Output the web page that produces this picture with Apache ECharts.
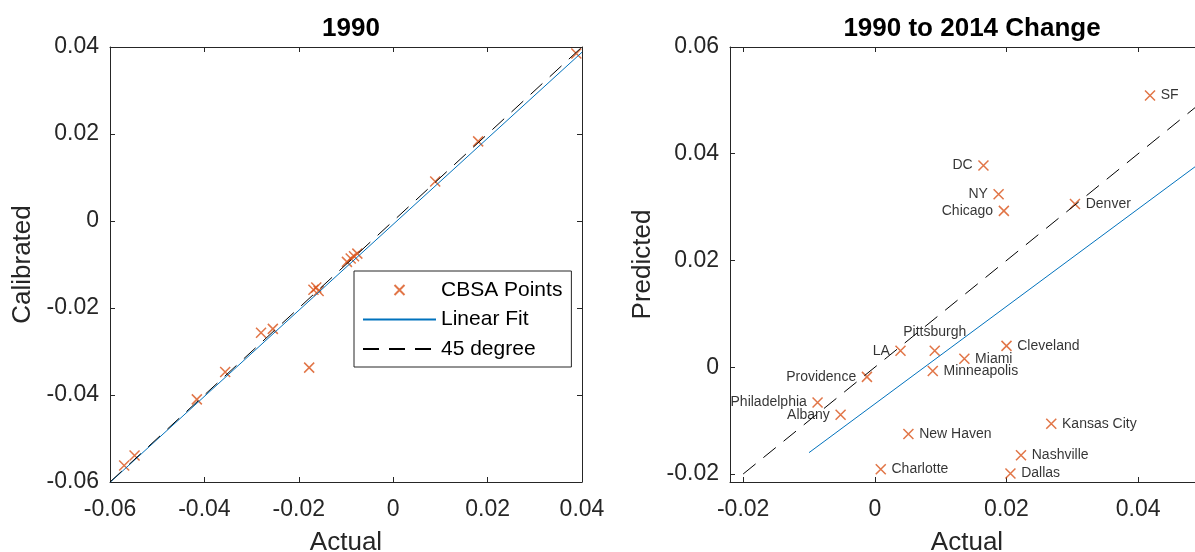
<!DOCTYPE html>
<html>
<head>
<meta charset="utf-8">
<script src="https://cdn.jsdelivr.net/npm/echarts@6/dist/echarts.min.js"></script>
<style>
  html, body { margin: 0; padding: 0; background: #fff; }
  #chart { width: 1195px; height: 552px; }
</style>
</head>
<body>
<div id="chart"></div>
<script>
// left panel: 1990 levels
const calX = [-0.0570, -0.0548, -0.0416, -0.0356, -0.0280, -0.0255, -0.0178, -0.0169, -0.0163, -0.0158,
  -0.0098, -0.0090, -0.0083, -0.0076, 0.0089, 0.0180, 0.0388]
const calY = [-0.0562, -0.0539, -0.0410, -0.0347, -0.0257, -0.0248, -0.0337, -0.0158, -0.0153, -0.0161,
  -0.0094, -0.0086, -0.0081, -0.0075, 0.0091, 0.0183, 0.0385]
const calFitX = [-0.06, 0.04]
const calFitY = [-0.0601, 0.0388]
const calDiagX = [-0.06, 0.04]

// right panel: 1990 to 2014 change
const cities = ['SF', 'DC', 'NY', 'Chicago', 'Denver', 'Pittsburgh', 'LA', 'Cleveland', 'Miami', 'Minneapolis',
  'Providence', 'Philadelphia', 'Albany', 'New Haven', 'Kansas City', 'Nashville', 'Charlotte', 'Dallas']
const actual = [0.0418, 0.0165, 0.0188, 0.0196, 0.0304, 0.0091, 0.0039, 0.0200, 0.0136, 0.0088,
  -0.0012, -0.0087, -0.0052, 0.0051, 0.0268, 0.0222, 0.0009, 0.0206]
const predicted = [0.0509, 0.0378, 0.0324, 0.0293, 0.0306, 0.0031, 0.0031, 0.0040, 0.0016, -0.0007,
  -0.0018, -0.0066, -0.0089, -0.0125, -0.0106, -0.0165, -0.0191, -0.0199]
const chgFitX = [-0.01, 0.05]
const chgFitY = [-0.0160, 0.0388]
const chgDiagX = [-0.02, 0.05]
const chgXTicks = [-0.02, 0, 0.02, 0.04]
const chgYTicks = [-0.02, 0, 0.02, 0.04, 0.06]

const FONT = 'Liberation Sans'
const AX = '#262626'
const ORANGE = '#D95319'
const BLUE = '#0072BD'
const CROSS = 'path://M0,0L10,10M10,0L0,10'

const labelLeft = ['DC', 'NY', 'Chicago', 'LA', 'Providence', 'Philadelphia', 'Albany']
const labelTop = ['Pittsburgh']

function fmt(v) {
  if (Math.abs(v) < 1e-9) return '0'
  return v.toFixed(2)
}

function axisBase(min, max, show, ticks) {
  const a = {
    type: 'value',
    min: min,
    max: max,
    axisLine: { show: true, onZero: false, lineStyle: { color: AX, width: 1 } },
    axisTick: { show: true, inside: true, length: 5, lineStyle: { color: AX } },
    axisLabel: { show: show, color: AX, fontFamily: FONT, fontSize: 23, formatter: fmt },
    splitLine: { show: false }
  }
  if (ticks) {
    a.axisTick.customValues = ticks
    a.axisLabel.customValues = ticks
  } else {
    a.interval = 0.02
  }
  return a
}

function xAxis(grid, pos, min, max, show, ticks, name) {
  const a = axisBase(min, max, show, ticks)
  a.gridIndex = grid
  a.position = pos
  a.axisLabel.margin = 16
  if (name) {
    a.name = name
    a.nameLocation = 'middle'
    a.nameGap = 48
    a.nameTextStyle = { color: AX, fontFamily: FONT, fontSize: 26 }
  }
  return a
}

function yAxis(grid, pos, min, max, show, ticks, name) {
  const a = axisBase(min, max, show, ticks)
  a.gridIndex = grid
  a.position = pos
  a.axisLabel.margin = 11
  a.axisLabel.padding = [6, 0, 0, 0]
  a.axisLabel.backgroundColor = 'rgba(255,255,255,0)'
  if (name) {
    a.name = name
    a.nameLocation = 'middle'
    a.nameGap = 74
    a.nameTextStyle = { color: AX, fontFamily: FONT, fontSize: 26 }
  }
  return a
}

const chart = echarts.init(document.getElementById('chart'))

const cityData = cities.map(function(c, i) {
  let pos = 'right'
  let dist = 5
  if (labelLeft.indexOf(c) >= 0) pos = 'left'
  if (labelTop.indexOf(c) >= 0) { pos = 'top'; dist = 6 }
  return { name: c, value: [actual[i], predicted[i]], label: { position: pos, distance: dist } }
})

chart.setOption({
  animation: false,
  backgroundColor: '#fff',
  title: [
    { text: '1990', left: 346, top: 11, textAlign: 'center',
      textStyle: { fontFamily: FONT, fontSize: 26, fontWeight: 'bold', color: '#000' } },
    { text: '1990 to 2014 Change', left: 967, top: 11, textAlign: 'center',
      textStyle: { fontFamily: FONT, fontSize: 26, fontWeight: 'bold', color: '#000' } }
  ],
  grid: [
    { left: 110, top: 47, width: 472, height: 435, outerBoundsMode: 'none' },
    { left: 730, top: 47, width: 474, height: 435, outerBoundsMode: 'none' }
  ],
  legend: {
    data: ['CBSA Points', 'Linear Fit', '45 degree'],
    orient: 'vertical',
    left: 354,
    top: 271,
    padding: [7, 9, 6, 8],
    itemGap: 5.5,
    itemWidth: 73,
    itemHeight: 10,
    borderColor: AX,
    borderWidth: 1,
    backgroundColor: '#fff',
    selectedMode: false,
    textStyle: { fontFamily: FONT, fontSize: 21, color: '#000', lineHeight: 24 }
  },
  xAxis: [
    xAxis(0, 'bottom', -0.06, 0.04, true, null, 'Actual'),
    xAxis(0, 'top', -0.06, 0.04, false, null),
    xAxis(1, 'bottom', -0.022, 0.05, true, chgXTicks, 'Actual'),
    xAxis(1, 'top', -0.022, 0.05, false, chgXTicks)
  ],
  yAxis: [
    yAxis(0, 'left', -0.06, 0.04, true, null, 'Calibrated'),
    yAxis(0, 'right', -0.06, 0.04, false, null),
    yAxis(1, 'left', -0.0215, 0.06, true, chgYTicks, 'Predicted'),
    yAxis(1, 'right', -0.0215, 0.06, false, chgYTicks)
  ],
  series: [
    {
      name: 'CBSA Points',
      type: 'scatter',
      xAxisIndex: 0,
      yAxisIndex: 0,
      symbol: CROSS,
      symbolSize: 10,
      symbolKeepAspect: true,
      itemStyle: { color: ORANGE, borderColor: ORANGE, borderWidth: 1.5 },
      data: calX.map(function(x, i) { return [x, calY[i]] })
    },
    {
      name: 'Linear Fit',
      type: 'line',
      xAxisIndex: 0,
      yAxisIndex: 0,
      symbol: 'none',
      lineStyle: { color: BLUE, width: 1 },
      itemStyle: { color: 'rgba(0,0,0,0)', borderWidth: 0 },
      data: calFitX.map(function(x, i) { return [x, calFitY[i]] })
    },
    {
      name: '45 degree',
      type: 'line',
      xAxisIndex: 0,
      yAxisIndex: 0,
      symbol: 'none',
      lineStyle: { color: '#000', width: 1, type: [16, 10] },
      itemStyle: { color: 'rgba(0,0,0,0)', borderWidth: 0 },
      data: calDiagX.map(function(x) { return [x, x] })
    },
    {
      name: 'cities',
      type: 'scatter',
      xAxisIndex: 2,
      yAxisIndex: 2,
      symbol: CROSS,
      symbolSize: 10,
      symbolKeepAspect: true,
      itemStyle: { color: ORANGE, borderColor: ORANGE, borderWidth: 1.5 },
      label: { show: true, formatter: '{b}', color: '#000', fontFamily: FONT, fontSize: 14 },
      labelLayout: { hideOverlap: false },
      data: cityData
    },
    {
      name: 'change fit',
      type: 'line',
      xAxisIndex: 2,
      yAxisIndex: 2,
      symbol: 'none',
      lineStyle: { color: BLUE, width: 1 },
      data: chgFitX.map(function(x, i) { return [x, chgFitY[i]] })
    },
    {
      name: 'change 45',
      type: 'line',
      xAxisIndex: 2,
      yAxisIndex: 2,
      symbol: 'none',
      lineStyle: { color: '#000', width: 1, type: [16, 10] },
      data: chgDiagX.map(function(x) { return [x, x] })
    }
  ]
})
</script>
</body>
</html>
